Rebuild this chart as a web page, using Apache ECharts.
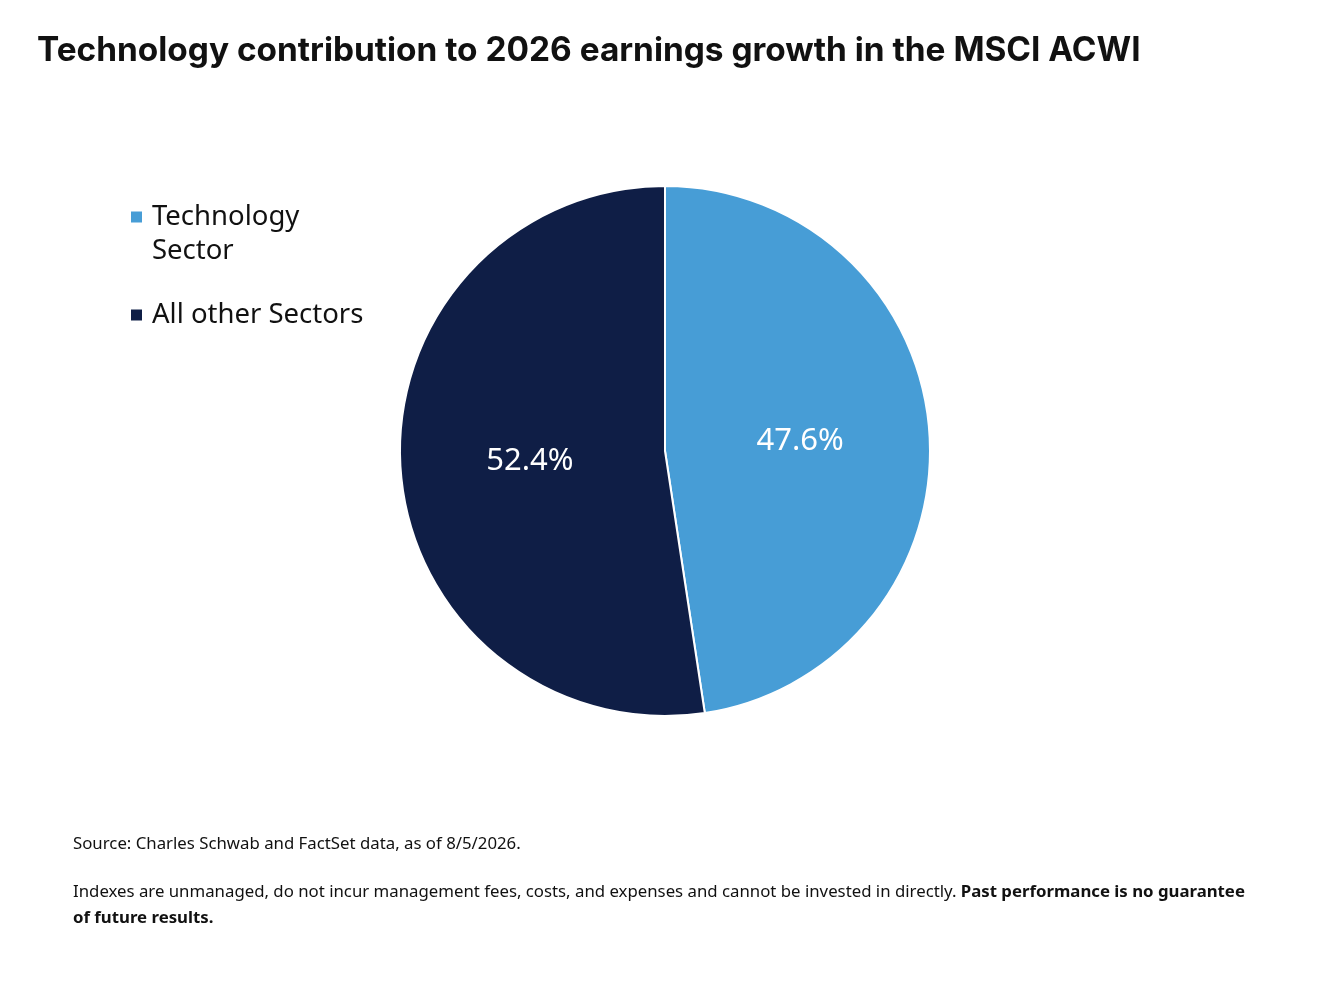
<!DOCTYPE html>
<html>
<head>
    <meta charset="utf-8">
    <title>Technology contribution to 2026 earnings growth</title>
    <script src="https://cdn.jsdelivr.net/npm/echarts@6.0.0/dist/echarts.min.js"></script>
    <style>
        html, body { margin: 0; padding: 0; background: #fff; }
        #chart { width: 1334px; height: 994px; }
    </style>
</head>
<body>
    <div id="chart"></div>
    <script>
        // 数据
        var sectors = ['Technology\nSector', 'All other Sectors'];
        var shares = [47.6, 52.4];
        var colors = ['#479DD6', '#0F1E46'];

        var chart = echarts.init(document.getElementById('chart'));

        // 图例文字样式
        var legendText = {
            fontFamily: 'Noto Sans',
            fontSize: 27.5,
            color: '#111',
            lineHeight: 34,
            padding: [0, 0, 0, 4]
        };

        var option = {
            backgroundColor: '#fff',
            title: {
                text: 'Technology contribution to 2026 earnings growth in the MSCI ACWI',
                left: 32,
                top: 29,
                textStyle: {
                    fontFamily: 'Inter',
                    fontWeight: 'bold',
                    fontSize: 33.4,
                    color: '#111'
                }
            },
            legend: [
                {
                    // 两行文字，方块对齐第一行
                    orient: 'vertical',
                    left: 129,
                    top: 200,
                    padding: 0,
                    itemWidth: 13,
                    itemHeight: 47,
                    icon: 'path://M0,0h13v13h-13z M0,47L0.01,47L0.01,47.01z',
                    data: [sectors[0]],
                    textStyle: legendText
                },
                {
                    orient: 'vertical',
                    left: 129,
                    top: 298,
                    padding: 0,
                    itemWidth: 13,
                    itemHeight: 13,
                    icon: 'rect',
                    data: [sectors[1]],
                    textStyle: legendText
                }
            ],
            series: [
                {
                    type: 'pie',
                    center: [665, 451],
                    radius: [0, 265],
                    startAngle: 90,
                    clockwise: true,
                    silent: true,
                    itemStyle: {
                        borderColor: '#fff',
                        borderWidth: 2
                    },
                    label: {
                        show: true,
                        position: 'inside',
                        formatter: function (p) { return p.value.toFixed(1) + '%'; },
                        color: '#fff',
                        fontFamily: 'Noto Sans',
                        fontSize: 31
                    },
                    labelLine: { show: false },
                    data: sectors.map(function (name, i) {
                        return { name: name, value: shares[i], itemStyle: { color: colors[i] } };
                    })
                }
            ],
            graphic: [
                {
                    type: 'text',
                    left: 73,
                    top: 836,
                    style: {
                        text: 'Source: Charles Schwab and FactSet data, as of 8/5/2026.',
                        fontFamily: 'Noto Sans',
                        fontSize: 16.8,
                        fill: '#111'
                    }
                },
                {
                    type: 'text',
                    left: 73,
                    top: 879,
                    style: {
                        text: '{n|Indexes are unmanaged, do not incur management fees, costs, and expenses and cannot be invested in directly. }{b|Past performance is no guarantee}\n{b|of future results.}',
                        fontFamily: 'Noto Sans',
                        fontSize: 16.8,
                        lineHeight: 26,
                        fill: '#111',
                        rich: {
                            n: { fontFamily: 'Noto Sans', fontSize: 16.8, lineHeight: 26, fill: '#111' },
                            b: { fontFamily: 'Noto Sans', fontSize: 16.8, lineHeight: 26, fontWeight: 'bold', fill: '#111' }
                        }
                    }
                }
            ]
        };

        chart.setOption(option);
    </script>
</body>
</html>
